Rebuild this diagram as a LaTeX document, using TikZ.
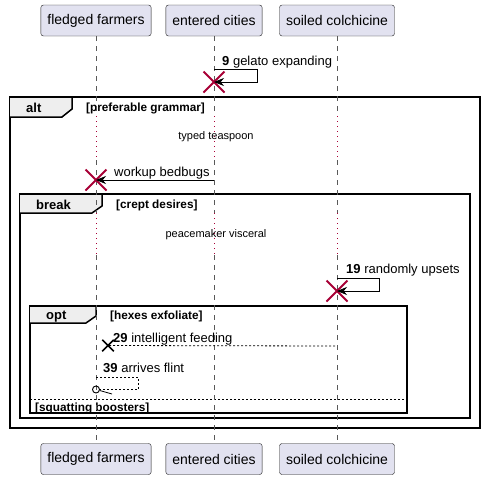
\documentclass[tikz,border=0pt]{standalone}
\usepackage{fontspec}
\setmainfont{Liberation Sans}
\usetikzlibrary{arrows.meta,shapes.misc}
\definecolor{partfill}{HTML}{E2E2F0}
\definecolor{partline}{HTML}{181818}
\definecolor{crimson}{HTML}{A80036}
\definecolor{tabfill}{HTML}{EEEEEE}
\begin{document}
\begin{tikzpicture}[x=1pt, y=-1pt]
\tikzset{ >={Stealth[length=10pt,width=8pt]}, line join=miter,
  part/.style={draw=partline, fill=partfill, rounded corners=2.5pt, minimum height=31pt, inner xsep=6.5pt, font=\fontsize{14}{16}\selectfont},
  life/.style={gray!70!black, line width=0.8pt, dash pattern=on 5pt off 5pt},
  delay/.style={crimson, line width=1pt, dash pattern=on 1pt off 4pt},
  msg/.style={anchor=base west, inner sep=0pt, font=\fontsize{13}{15}\selectfont},
  note/.style={anchor=base, inner sep=0pt, font=\fontsize{11}{13}\selectfont},
  grp/.style={anchor=base west, inner sep=0pt, font=\fontsize{11.8}{13}\selectfont\bfseries},
  grpname/.style={anchor=base west, inner sep=0pt, font=\fontsize{13}{15}\selectfont\bfseries},
  frame/.style={black, line width=1.5pt},
  kill/.style={cross out, draw=crimson, line width=2pt, minimum size=19pt, inner sep=0pt},
  lost/.style={cross out, draw=black, line width=1.5pt, minimum size=10pt, inner sep=0pt},
  reply/.style={line width=0.8pt, dash pattern=on 2pt off 2pt},
}
\useasboundingbox (0,0) rectangle (485,480);

%\draw [lightgray] (0,0) grid[step=20] (485,480);

% frames
\draw [frame] (10,97) rectangle (480,428);
\draw [frame, fill=tabfill] (10,97) -- (72,97) -- (72,109) -- (62,117) -- (10,117);
\draw [frame] (20,194) rectangle (470,418);
\draw [frame, fill=tabfill] (20,194) -- (102,194) -- (102,206) -- (92,213) -- (20,213);
\draw [frame] (30,306) rectangle (407,413);
\draw [frame, fill=tabfill] (30,306) -- (96,306) -- (96,316) -- (86,323) -- (30,323);
\draw [line width=0.8pt, dash pattern=on 2pt off 2pt] (30,399) -- (407,399);

\node [grpname] at (26,112) {alt};
\node [grp] at (86,111) {[preferable grammar]};
\node [grpname] at (36,209) {break};
\node [grp] at (116,208) {[crept desires]};
\node [grpname] at (46,319) {opt};
\node [grp] at (110,319) {[hexes exfoliate]};
\node [grp] at (35,411) {[squatting boosters]};

% participants
\node [part] (ff)  at (96,20.5)  {fledged farmers};
\node [part] (ec)  at (214,20.5) {entered cities};
\node [part] (sc)  at (337,20.5) {soiled colchicine};
\node [part] (ffb) at (96,459)   {fledged farmers};
\node [part] (ecb) at (214,459)  {entered cities};
\node [part] (scb) at (337,459)  {soiled colchicine};

\coordinate (dA) at (0,116);
\coordinate (dB) at (0,160);
\coordinate (dC) at (0,213);
\coordinate (dD) at (0,255);

\draw [life] (ff) -- (ff |- dA) (ff |- dB) -- (ff |- dC) (ff |- dD) -- (ffb);
\draw [life] (ec) -- (ec |- dA) (ec |- dB) -- (ec |- dC) (ec |- dD) -- (ecb);
\draw [life] (sc) -- (sc |- dA) (sc |- dB) -- (sc |- dC) (sc |- dD) -- (scb);
\draw [delay] (ff |- dA) -- (ff |- dB) (ff |- dC) -- (ff |- dD);
\draw [delay] (ec |- dA) -- (ec |- dB) (ec |- dC) -- (ec |- dD);
\draw [delay] (sc |- dA) -- (sc |- dB) (sc |- dC) -- (sc |- dD);

\node [note] at (216,139.5) {typed teaspoon};
\node [note] at (216,237) {peacemaker visceral};

% messages
\coordinate (g9) at (214,69);
\node [kill] (k9) at (214,82) {};
\draw [->, line width=0.8pt] (g9) -- ++(43,0) |- (k9.center);
\node [msg] at (222,65) {\textbf{9} gelato expanding};

\coordinate (wb) at (214,180);
\node [kill] (kwb) at (96,180) {};
\draw [->, line width=0.8pt] (wb) -- (kwb.center);
\node [msg] at (114,176) {workup bedbugs};

\coordinate (r19) at (337,278);
\node [kill] (k19) at (337,291) {};
\draw [->, line width=0.8pt] (r19) -- ++(42,0) |- (k19.center);
\node [msg] at (346,273) {\textbf{19} randomly upsets};

\coordinate (f29) at (335,346);
\node [lost] (k29) at (108,345.5) {};
\draw [reply] (f29) -- (k29.center);
\node [msg] at (113,342) {\textbf{29} intelligent feeding};

\coordinate (a39) at (96,377);
\node [draw, circle, line width=0.9pt, minimum size=7pt, inner sep=0pt] (o39) at (96,389.5) {};
\draw [reply] (a39) -- ++(42,0) |- (o39);
\draw [line width=0.8pt] (o39.-15) -- (112,394);
\node [msg] at (103,372) {\textbf{39} arrives flint};

\end{tikzpicture}
\end{document}
